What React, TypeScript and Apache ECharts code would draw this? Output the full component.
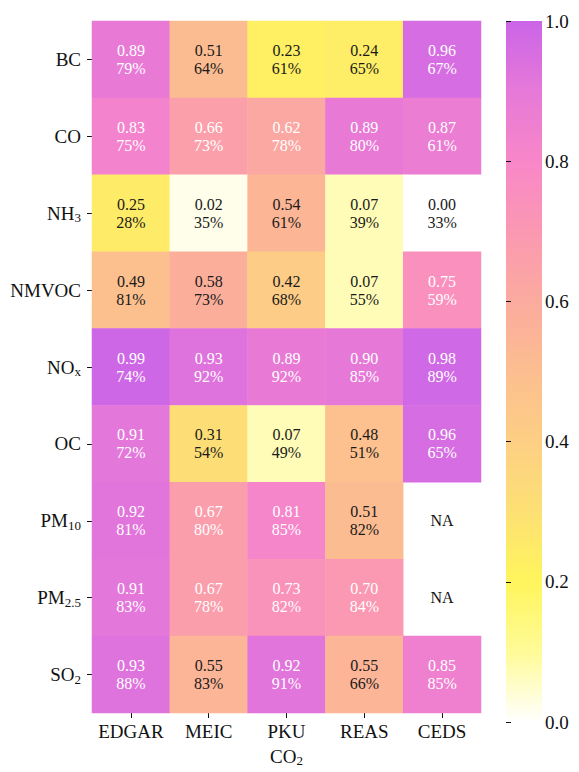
import React, { useEffect, useRef } from "react";
import * as echarts from "echarts";

const inventories = ["EDGAR", "MEIC", "PKU", "REAS", "CEDS"];
const species = ["BC", "CO", "NH3", "NMVOC", "NOx", "OC", "PM10", "PM2.5", "SO2"];
const speciesLabels = ["BC", "CO", "NH{s|3}", "NMVOC", "NO{s|x}", "OC", "PM{s|10}", "PM{s|2.5}", "SO{s|2}"];

// correlation values (rows = species, cols = inventories); null = NA
const bcR = [0.89, 0.51, 0.23, 0.24, 0.96];
const coR = [0.83, 0.66, 0.62, 0.89, 0.87];
const nh3R = [0.25, 0.02, 0.54, 0.07, 0.0];
const nmvocR = [0.49, 0.58, 0.42, 0.07, 0.75];
const noxR = [0.99, 0.93, 0.89, 0.9, 0.98];
const ocR = [0.91, 0.31, 0.07, 0.48, 0.96];
const pm10R = [0.92, 0.67, 0.81, 0.51, null];
const pm25R = [0.91, 0.67, 0.73, 0.7, null];
const so2R = [0.93, 0.55, 0.92, 0.55, 0.85];

// percentages
const bcP = [79, 64, 61, 65, 67];
const coP = [75, 73, 78, 80, 61];
const nh3P = [28, 35, 61, 39, 33];
const nmvocP = [81, 73, 68, 55, 59];
const noxP = [74, 92, 92, 85, 89];
const ocP = [72, 54, 49, 51, 65];
const pm10P = [81, 80, 85, 82, null];
const pm25P = [83, 78, 82, 84, null];
const so2P = [88, 83, 91, 66, 85];

const rValues = [bcR, coR, nh3R, nmvocR, noxR, ocR, pm10R, pm25R, so2R];
const pValues = [bcP, coP, nh3P, nmvocP, noxP, ocP, pm10P, pm25P, so2P];

// colormap stops at 0.0, 0.1, ..., 1.0
const cmap = [
  "#FFFFFF", "#FFFB98", "#FFF55C", "#FDE074", "#FDCF84", "#FCBE90",
  "#FBAB9E", "#FB98B2", "#F887C8", "#E679D8", "#CB65E8",
];

const FONT = "Liberation Serif, Times New Roman, serif";

export default function App() {
  const ref = useRef<HTMLDivElement>(null);
  useEffect(() => {
    document.body.style.margin = "0";
    if (!ref.current) return;
    const chart = echarts.init(ref.current, null, { renderer: "svg" });

    const heat: any[] = [];
    const na: any[] = [];
    rValues.forEach((row, r) => {
      row.forEach((v, c) => {
        if (v === null) {
          na.push({ value: [c, r, 0] });
        } else {
          heat.push({
            value: [c, r, v],
            pct: pValues[r][c],
            label: { color: v >= 0.6 ? "#ffffff" : "#1a1a1a" },
          });
        }
      });
    });

    const subRich = {
      b: { fontSize: 19, fontFamily: FONT, color: "#111" },
      s: { fontSize: 13, fontFamily: FONT, color: "#111", padding: [9, 0, 0, 0] },
    };

    const option: any = {
      animation: false,
      backgroundColor: "#ffffff",
      textStyle: { fontFamily: FONT },
      grid: [
        { left: 92, top: 21, width: 389, height: 701 },
        { left: 506, top: 21, width: 36, height: 701 },
      ],
      xAxis: [
        {
          type: "category",
          gridIndex: 0,
          data: inventories,
          axisLine: { show: false },
          axisTick: { show: true, length: 5, alignWithLabel: true, lineStyle: { color: "#111" } },
          axisLabel: { fontSize: 19, fontFamily: FONT, color: "#111", margin: 9, interval: 0 },
          splitLine: { show: false },
          name: "{b|CO}{s|2}",
          nameLocation: "middle",
          nameGap: 32,
          nameTextStyle: { fontSize: 19, fontFamily: FONT, color: "#111", rich: subRich },
        },
        { type: "value", gridIndex: 1, show: false, min: 0, max: 1 },
      ],
      yAxis: [
        {
          type: "category",
          gridIndex: 0,
          data: species,
          inverse: true,
          axisLine: { show: false },
          axisTick: { show: true, length: 5, alignWithLabel: true, lineStyle: { color: "#111" } },
          axisLabel: {
            fontSize: 19,
            fontFamily: FONT,
            color: "#111",
            margin: 11,
            interval: 0,
            formatter: (_v: string, i: number) => speciesLabels[i],
            rich: subRich,
          },
          splitLine: { show: false },
        },
        {
          type: "value",
          gridIndex: 1,
          position: "right",
          min: 0,
          max: 1,
          interval: 0.2,
          axisLine: { show: false },
          axisTick: { show: true, length: 5, lineStyle: { color: "#111" } },
          axisLabel: {
            fontSize: 19,
            fontFamily: FONT,
            color: "#111",
            margin: 3,
            formatter: (v: number) => v.toFixed(1),
          },
          splitLine: { show: false },
        },
      ],
      visualMap: {
        type: "continuous",
        show: false,
        min: 0,
        max: 1,
        seriesIndex: 0,
        inRange: { color: cmap },
      },
      graphic: [
        {
          type: "rect",
          z: -1,
          shape: { x: 506, y: 21, width: 36, height: 701 },
          style: {
            fill: new echarts.graphic.LinearGradient(
              0, 0, 0, 1,
              cmap.map((c, i) => ({ offset: 1 - i / (cmap.length - 1), color: c })).reverse()
            ),
          },
        },
      ],
      series: [
        {
          type: "heatmap",
          xAxisIndex: 0,
          yAxisIndex: 0,
          data: heat,
          itemStyle: { borderWidth: 0 },
          label: {
            show: true,
            fontSize: 16,
            lineHeight: 18,
            fontFamily: FONT,
            formatter: (p: any) => `${p.value[2].toFixed(2)}\n${p.data.pct}%`,
          },
          emphasis: { disabled: true },
        },
        {
          type: "scatter",
          xAxisIndex: 0,
          yAxisIndex: 0,
          data: na,
          symbol: "rect",
          symbolSize: 1,
          itemStyle: { color: "#ffffff", opacity: 1 },
          label: {
            show: true,
            position: "inside",
            fontSize: 16,
            fontFamily: FONT,
            color: "#111111",
            opacity: 1,
            formatter: () => "NA",
          },
          emphasis: { disabled: true },
        },
      ],
    };
    chart.setOption(option);
    return () => chart.dispose();
  }, []);
  return <div ref={ref} style={{ width: 579, height: 772 }} />;
}
